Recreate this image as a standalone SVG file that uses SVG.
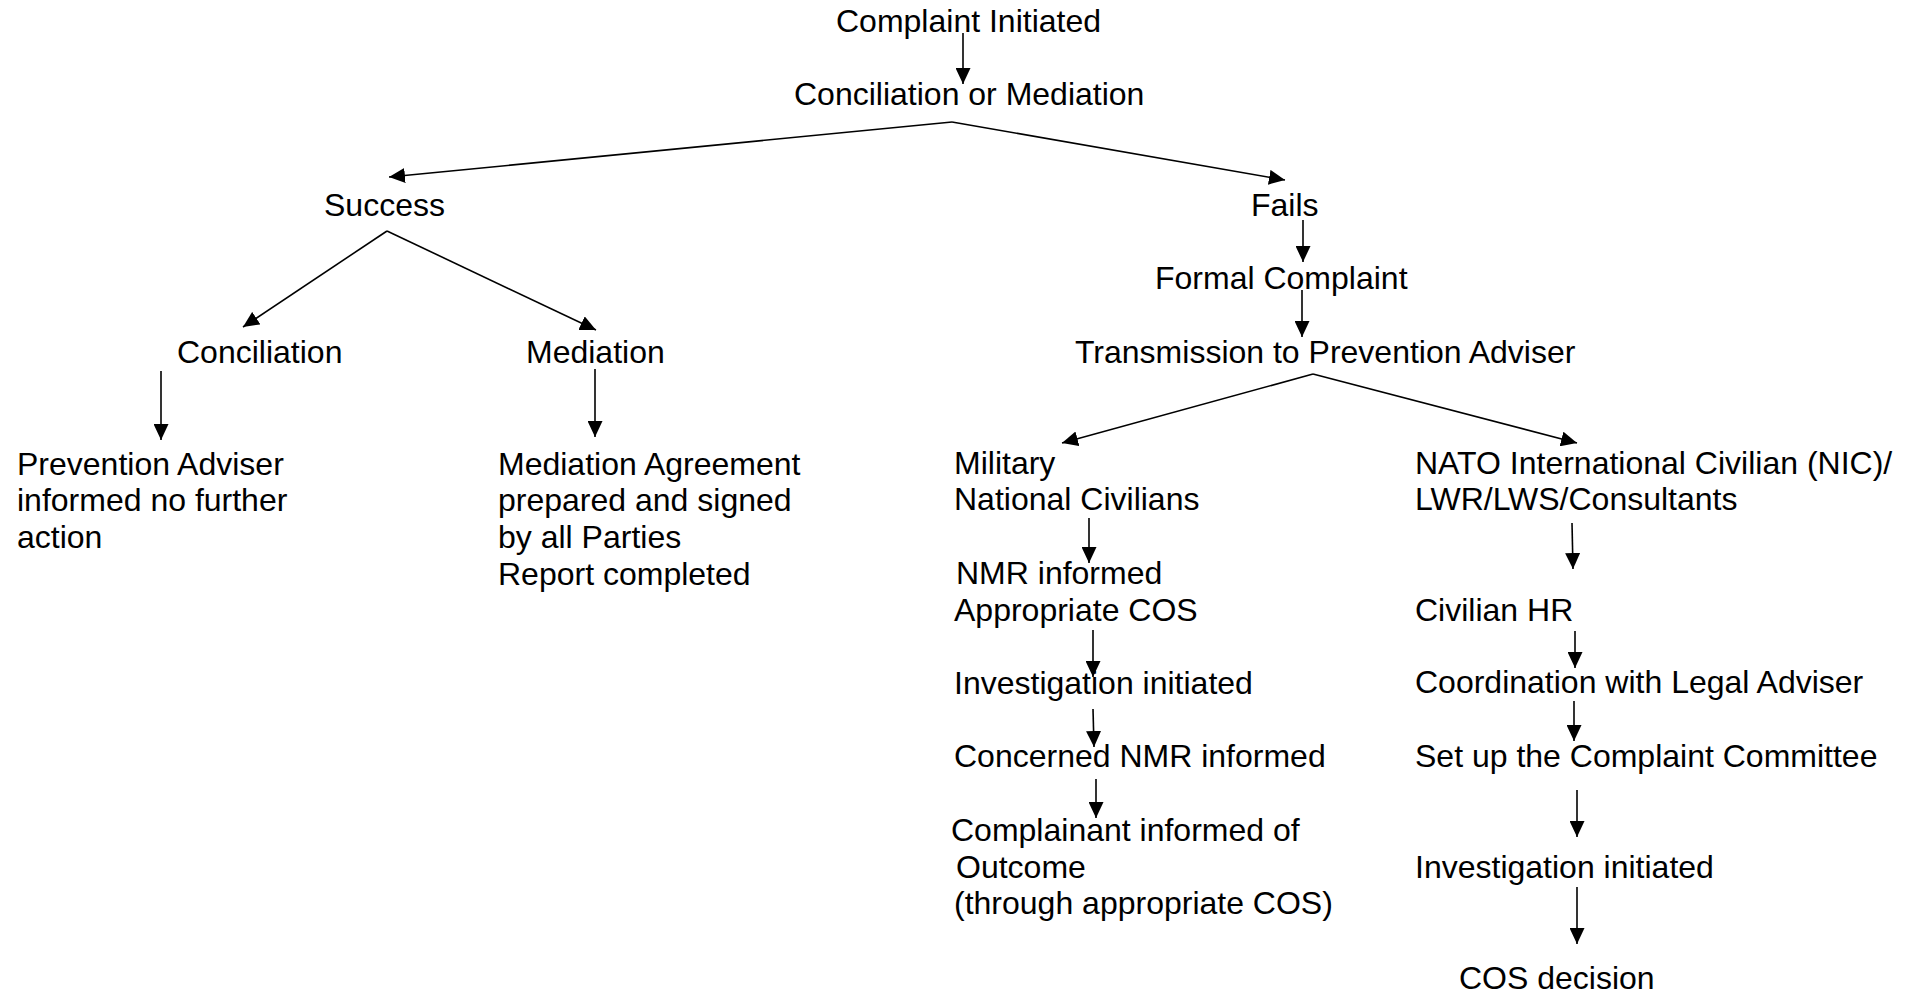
<svg xmlns="http://www.w3.org/2000/svg" width="1915" height="994" viewBox="0 0 1915 994">
<defs>
<marker id="ah" markerUnits="userSpaceOnUse" markerWidth="16" markerHeight="15" refX="16" refY="7.5" orient="auto">
<path d="M0,0 L16,7.5 L0,15 z" fill="#000"/>
</marker>
<style>
text{font-family:"Liberation Sans",Arial,sans-serif;font-size:32px;fill:#000}
.c line{stroke:#000;stroke-width:1.6;fill:none;marker-end:url(#ah)}
</style>
</defs>
<rect width="1915" height="994" fill="#fff"/>
<g class="c" id="connectors">
<line x1="963" y1="33" x2="963" y2="84"/>
<line x1="952" y1="122" x2="389" y2="177"/>
<line x1="952" y1="122" x2="1285" y2="180"/>
<line x1="387" y1="231" x2="243" y2="327"/>
<line x1="387" y1="231" x2="596" y2="330"/>
<line x1="161" y1="371" x2="161" y2="440"/>
<line x1="595" y1="369" x2="595" y2="437"/>
<line x1="1303" y1="220" x2="1303" y2="262"/>
<line x1="1302" y1="290" x2="1302" y2="337"/>
<line x1="1313" y1="374" x2="1062" y2="443"/>
<line x1="1313" y1="374" x2="1577" y2="443"/>
<line x1="1089" y1="518" x2="1089" y2="563"/>
<line x1="1093" y1="630" x2="1093" y2="677"/>
<line x1="1093" y1="709" x2="1094" y2="747"/>
<line x1="1096" y1="779" x2="1096" y2="818"/>
<line x1="1572" y1="523" x2="1573" y2="569"/>
<line x1="1575" y1="631" x2="1575" y2="668"/>
<line x1="1574" y1="701" x2="1574" y2="741"/>
<line x1="1577" y1="790" x2="1577" y2="837"/>
<line x1="1577" y1="887" x2="1577" y2="944"/>
</g>
<g id="n-complaint"><text x="836" y="32">Complaint Initiated</text></g>
<g id="n-concmed"><text x="794" y="105">Conciliation or Mediation</text></g>
<g id="n-success"><text x="324" y="216">Success</text></g>
<g id="n-fails"><text x="1251" y="216">Fails</text></g>
<g id="n-formal"><text x="1155" y="289">Formal Complaint</text></g>
<g id="n-transmission"><text x="1075" y="363">Transmission to Prevention Adviser</text></g>
<g id="n-conciliation"><text x="177" y="363">Conciliation</text></g>
<g id="n-mediation"><text x="526" y="363">Mediation</text></g>
<g id="n-pa"><text x="17" y="475">Prevention Adviser</text><text x="17" y="511">informed no further</text><text x="17" y="548">action</text></g>
<g id="n-agreement"><text x="498" y="475">Mediation Agreement</text><text x="498" y="511">prepared and signed</text><text x="498" y="548">by all Parties</text><text x="498" y="585">Report completed</text></g>
<g id="n-military"><text x="954" y="474">Military</text><text x="954" y="510">National Civilians</text></g>
<g id="n-nmr"><text x="956" y="584">NMR informed</text><text x="954" y="621">Appropriate COS</text></g>
<g id="n-inv1"><text x="954" y="694">Investigation initiated</text></g>
<g id="n-concerned"><text x="954" y="767">Concerned NMR informed</text></g>
<g id="n-complainant"><text x="951" y="841">Complainant informed of</text><text x="956" y="878">Outcome</text><text x="954" y="914">(through appropriate COS)</text></g>
<g id="n-nato"><text x="1415" y="474">NATO International Civilian (NIC)/</text><text x="1415" y="510">LWR/LWS/Consultants</text></g>
<g id="n-hr"><text x="1415" y="621">Civilian HR</text></g>
<g id="n-coord"><text x="1415" y="693">Coordination with Legal Adviser</text></g>
<g id="n-setup"><text x="1415" y="767">Set up the Complaint Committee</text></g>
<g id="n-inv2"><text x="1415" y="878">Investigation initiated</text></g>
<g id="n-cos"><text x="1459" y="989">COS decision</text></g>
</svg>
